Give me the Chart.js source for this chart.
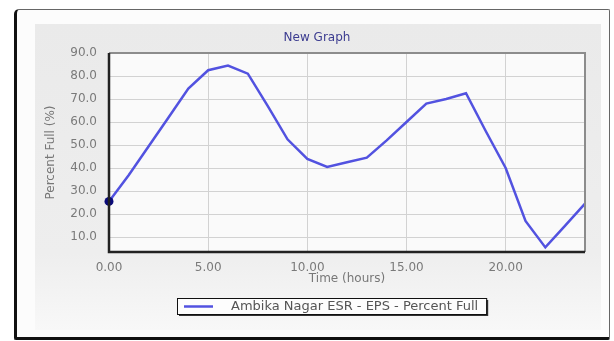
<!DOCTYPE html>
<html><head><meta charset="utf-8">
<script src="https://cdn.jsdelivr.net/npm/chart.js@4"></script>
<style>
html,body{margin:0;padding:0;background:#fff;width:614px;height:341px;overflow:hidden}
#frame{position:absolute;left:14px;top:9px;width:592px;height:327px;border:1px solid #666;border-left:3px solid #111;border-bottom:3px solid #111;border-radius:5px 2px 2px 2px;background:#fcfcfc;box-sizing:content-box}
#panel{position:absolute;left:35px;top:24px;width:566px;height:306px;background:linear-gradient(#eaeaea,#eeeeee 75%,#f8f8f8)}
#wrap{position:absolute;left:0;top:0;width:614px;height:341px}
</style></head><body>
<div id="frame"></div><div id="panel"></div>
<div id="wrap"><canvas id="c" width="614" height="341"></canvas></div>
<script>
const hours = [0,1,2,3,4,5,6,7,8,9,10,11,12,13,14,15,16,17,18,19,20,21,22,23,24];
const percentFull = [25.5,37,49.5,62,74.5,82.5,84.5,81,67,52.5,44,40.5,42.5,44.5,52,60,68,70,72.5,56,40,17,5.5,15,24.5];
const xTickValues = [0,5,10,15,20];
const yTickValues = [10,20,30,40,50,60,70,80,90];
const chartTitle = 'New Graph';
const seriesLabel = 'Ambika Nagar ESR - EPS - Percent Full';
const xTitle = 'Time (hours)';
const yTitle = 'Percent Full (%)';

const FONT = '"DejaVu Sans", Verdana, sans-serif';
const LINE_COLOR = '#5252e0';

const decor = {
  id: 'decor',
  beforeDraw(chart) {
    const {ctx, chartArea: a} = chart;
    ctx.save();
    ctx.fillStyle = '#fafafa';
    ctx.fillRect(a.left, a.top, a.right - a.left, a.bottom - a.top);
    ctx.restore();
  },
  afterDatasetsDraw(chart) {
    const {ctx, chartArea: a} = chart;
    ctx.save();
    ctx.strokeStyle = '#8c8c8c';
    ctx.lineWidth = 2;
    ctx.beginPath();
    ctx.moveTo(a.left, a.top); ctx.lineTo(a.right, a.top); ctx.lineTo(a.right, a.bottom);
    ctx.stroke();
    ctx.strokeStyle = '#222';
    ctx.lineWidth = 2.5;
    ctx.beginPath();
    ctx.moveTo(a.left, a.top); ctx.lineTo(a.left, a.bottom); ctx.lineTo(a.right, a.bottom);
    ctx.stroke();
    // title
    ctx.font = '12px ' + FONT;
    ctx.fillStyle = '#3c3c90';
    ctx.textAlign = 'center';
    ctx.textBaseline = 'middle';
    ctx.fillText(chartTitle, 317, 38);
    // legend
    const label = chart.data.datasets[0].label;
    ctx.font = '13px ' + FONT;
    const tw = ctx.measureText(label).width;
    const bx = 177, by = 298, bh = 16;
    const bw = (231 - bx) + tw + 8;
    ctx.fillStyle = '#333';
    ctx.fillRect(bx + 2, by + 2, bw, bh);
    ctx.fillStyle = '#fdfdfd';
    ctx.fillRect(bx, by, bw, bh);
    ctx.strokeStyle = '#111';
    ctx.lineWidth = 1;
    ctx.strokeRect(bx + 0.5, by + 0.5, bw, bh);
    ctx.strokeStyle = LINE_COLOR;
    ctx.lineWidth = 2.5;
    ctx.beginPath(); ctx.moveTo(184, by + bh / 2 + 0.5); ctx.lineTo(213, by + bh / 2 + 0.5); ctx.stroke();
    ctx.fillStyle = '#555';
    ctx.textAlign = 'left';
    ctx.fillText(label, 231, by + bh / 2 + 1);
    ctx.restore();
  }
};

new Chart(document.getElementById('c'), {
  type: 'line',
  data: {
    datasets: [{
      label: seriesLabel,
      data: hours.map((h, i) => ({x: h, y: percentFull[i]})),
      borderColor: LINE_COLOR,
      backgroundColor: LINE_COLOR,
      borderWidth: 2.5,
      tension: 0,
      clip: false,
      pointRadius: c => c.dataIndex === 0 ? 4.5 : 0,
      pointBackgroundColor: '#0b0b7a',
      pointBorderColor: '#0b0b7a',
      pointBorderWidth: 0
    }]
  },
  options: {
    responsive: false,
    animation: false,
    devicePixelRatio: 1,
    layout: {padding: {left: 40, right: 29, top: 53, bottom: 49}},
    plugins: {legend: {display: false}, title: {display: false}, tooltip: {enabled: false}},
    scales: {
      x: {
        type: 'linear', min: 0, max: 24,
        afterBuildTicks: s => { s.ticks = xTickValues.map(v => ({value: v})); },
        afterFit: s => { s.height = 40; },
        ticks: {padding: 9, color: '#7a7a7a', font: {family: FONT, size: 12}, callback: v => Number(v).toFixed(2), maxRotation: 0},
        grid: {color: '#d2d2d2', lineWidth: 1, drawTicks: false},
        border: {display: false},
        title: {display: true, text: xTitle, color: '#777', font: {family: FONT, size: 12}, padding: {top: 0, bottom: 6}}
      },
      y: {
        type: 'linear', min: 3.5, max: 90,
        afterBuildTicks: s => { s.ticks = yTickValues.map(v => ({value: v})); },
        afterFit: s => { s.width = 69; },
        ticks: {padding: 12, color: '#7a7a7a', font: {family: FONT, size: 12}, callback: v => Number(v).toFixed(1)},
        grid: {color: '#d2d2d2', lineWidth: 1, drawTicks: false},
        border: {display: false},
        title: {display: true, text: yTitle, color: '#777', font: {family: FONT, size: 12}, padding: {top: 4, bottom: 0}}
      }
    }
  },
  plugins: [decor]
});
</script>
</body></html>
